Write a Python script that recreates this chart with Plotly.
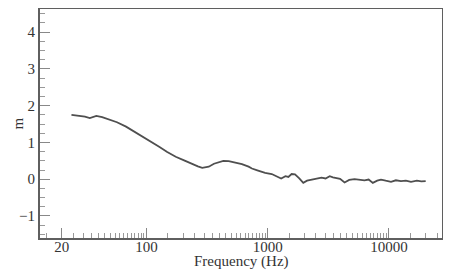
import numpy as np
import plotly.graph_objects as go

freq_hz = [24, 28, 31, 34, 38.5, 43, 49.5, 57, 67.7, 79, 92.7, 108, 127, 148, 174, 204, 238, 265, 288, 310, 326,
           360, 394, 430, 476, 540, 612, 695, 740, 820, 951, 1079, 1224, 1290, 1400, 1479, 1574, 1678, 1820, 1963,
           2110, 2297, 2500, 2774, 3000, 3246, 3450, 3679, 3950, 4306, 4700, 5200, 5700, 6280, 6800, 7360, 8000,
           8600, 9400, 10400, 11400, 12560, 13800, 15200, 17000, 18500, 20100]
m_values = [1.75, 1.72, 1.70, 1.66, 1.72, 1.69, 1.63, 1.55, 1.43, 1.30, 1.16, 1.02, 0.88, 0.74, 0.61, 0.51, 0.41, 0.35,
            0.31, 0.32, 0.34, 0.42, 0.47, 0.50, 0.49, 0.46, 0.41, 0.34, 0.29, 0.24, 0.17, 0.14, 0.04, 0.02, 0.08,
            0.06, 0.14, 0.13, 0.02, -0.10, -0.04, -0.01, 0.01, 0.04, 0.02, 0.08, 0.05, 0.04, 0.01, -0.09, -0.02,
            0.00, -0.02, -0.03, -0.01, -0.10, -0.04, -0.01, -0.04, -0.07, -0.03, -0.05, -0.04, -0.07, -0.04, -0.06,
            -0.05]

x_major = [20, 100, 1000, 10000]
x_major_text = ["20", "100", "1000", "10000"]
x_minor = [k * 10 ** n for n in (1, 2, 3, 4) for k in np.arange(1.5, 10, 0.5)]
x_minor = [v for v in x_minor if 14 < v < 26000 and v not in x_major]
y_major = [-1, 0, 1, 2, 3, 4]
x_title = "Frequency (Hz)"
y_title = "m"

font = dict(family="Liberation Serif, Times New Roman, serif", size=15, color="#333")
title_font = dict(family="Liberation Serif, Times New Roman, serif", size=15, color="#333")
axis_col = "#5f5f5f"

fig = go.Figure(go.Scatter(x=freq_hz, y=m_values, mode="lines",
                           line=dict(color="#4f4f4f", width=1.8)))

fig.update_layout(
    width=435, height=262,
    margin=dict(l=32, r=1, t=1, b=32, autoexpand=False),
    paper_bgcolor="white", plot_bgcolor="white",
    showlegend=False,
    font=font,
    xaxis=dict(type="log", range=[np.log10(13.2), np.log10(27400)],
               tickmode="array", tickvals=x_major, ticktext=x_major_text,
               ticks="inside", ticklen=10, tickwidth=1, tickcolor="#888",
               ticklabelstandoff=-6,
               showgrid=False, zeroline=False,
               showline=True, linecolor=axis_col, linewidth=2, mirror=True,
               minor=dict(tickmode="array", tickvals=x_minor, ticks="inside",
                          ticklen=5, tickwidth=1, tickcolor="#999", showgrid=False),
               tickfont=font, automargin=False),
    yaxis=dict(range=[-1.6, 4.63],
               tickmode="array", tickvals=y_major,
               ticks="inside", ticklen=10, tickwidth=1, tickcolor="#888",
               showgrid=False, zeroline=False,
               showline=True, linecolor=axis_col, linewidth=2, mirror=True,
               minor=dict(dtick=0.25, tick0=0, ticks="inside", ticklen=5,
                          tickwidth=1, tickcolor="#999", showgrid=False),
               tickfont=font, automargin=False),
    annotations=[
        dict(text=x_title, xref="paper", yref="paper", x=0.5, y=0,
             xanchor="center", yanchor="bottom", yshift=-33, showarrow=False,
             borderpad=0, font=title_font),
        dict(text=y_title, xref="paper", yref="paper", x=0, y=0.5,
             xanchor="center", yanchor="middle", xshift=-23, textangle=-90,
             showarrow=False, font=title_font),
    ],
)

fig.write_html("out.html")
